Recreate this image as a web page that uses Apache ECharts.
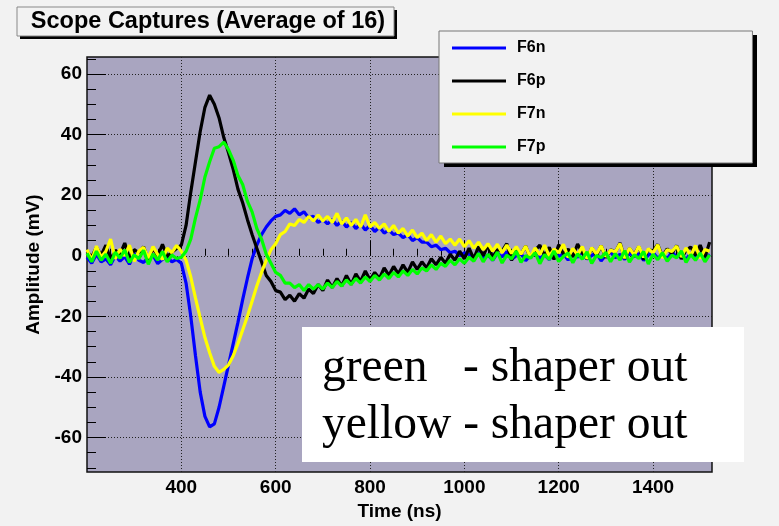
<!DOCTYPE html>
<html>
<head>
<meta charset="utf-8">
<title>Scope Captures</title>
<script src="https://cdn.jsdelivr.net/npm/echarts@6.0.0/dist/echarts.min.js"></script>
<style>
    html, body { margin: 0; padding: 0; background: #f2f2f2; }
    #main { width: 779px; height: 526px; }
</style>
</head>
<body>
<div id="main"></div>
<script>
/* 采样时间 (ns) */
const times = [200, 210, 220, 230, 240, 250, 260, 270, 280, 290, 300, 310, 320, 330, 340, 350, 360, 370, 380, 390,
    400, 410, 420, 430, 440, 450, 460, 470, 480, 490, 500, 510, 520, 530, 540, 550, 560, 570, 580, 590,
    600, 610, 620, 630, 640, 650, 660, 670, 680, 690, 700, 710, 720, 730, 740, 750, 760, 770, 780, 790,
    800, 810, 820, 830, 840, 850, 860, 870, 880, 890, 900, 910, 920, 930, 940, 950, 960, 970, 980, 990,
    1000, 1010, 1020, 1030, 1040, 1050, 1060, 1070, 1080, 1090, 1100, 1110, 1120, 1130, 1140, 1150, 1160, 1170, 1180, 1190,
    1200, 1210, 1220, 1230, 1240, 1250, 1260, 1270, 1280, 1290, 1300, 1310, 1320, 1330, 1340, 1350, 1360, 1370, 1380, 1390,
    1400, 1410, 1420, 1430, 1440, 1450, 1460, 1470, 1480, 1490, 1500, 1510, 1520];

/* F6n - blue */
const f6n = [-0.5, -2.5, 0.5, -2, -1, -3, 0, -1.8, -0.3, -2.8, 0.8, -1.5, -2.2, -0.6, 0.2, -2.6, -1.2, -0.4, -2, -1.2,
    -2.5, -9, -20, -33, -45, -53, -56.5, -55.5, -50, -43, -36, -29, -22, -14.5, -7.5, -1, 3.5, 7, 9.5, 11.5,
    13, 13.5, 15, 14, 15.5, 13.5, 14.5, 12.5, 13, 11, 12,
    10.5, 12, 10, 11.5, 9.5, 11, 9, 10.5, 8.5, 10, 8, 9.5, 7.5, 8.5, 7, 7.5, 6, 7, 5, 6, 4.5, 4.5, 3, 3.5, 2, 2.5, 1, 1.5, 0, 1,
    0.5, -1, 1.2, -0.8, 0.3, -1.5, 0.9, -0.4, 1.4, -1.2, 0, 0.7, -1.6, 0.2, 1, -0.9, 0.4, -1.3, 1.1, -0.2,
    0.6, -1.4, 0.8, -0.5, 1.3, -1.1, 0.1, 0.9, -1.7, 0.3, 1.2, -0.6, 0.5, -1.2, 1, -0.3, 0.7, -1.5, 0.2, 1.1,
    -0.8, 0.4, -1, 1.3, -0.4, 0.6, -1.3, 0.9, -0.1, 0.8, -1.1, 0.5];

/* F6p - black */
const f6p = [1.5, -0.5, 2.8, 0.2, 3.5, -1.2, 1.8, 0.5, 4.2, -0.8, 2.0, 1.0, 3.0, -1.5, 2.5, 0.0, 3.8, -0.3, 1.2, 2.4,
    3.5, 10, 21, 31, 41, 49, 53, 50, 45.5, 39, 34, 28.5, 22, 17.5, 12, 7, 2.5, -2, -6.5, -8.5,
    -11.5, -12, -14.5, -13, -15, -12.5, -14, -11, -12.5, -9.5, -11.5,
    -8, -10.5, -7.5, -10, -6.5, -9.5, -6, -8.5, -5, -8, -5.5, -7.5, -4, -6.5, -3.5, -6, -3, -5.5, -2, -4.5, -2, -4, -1, -3, -0.5, -2.5, 0.5, -1.5, 1.5, -1,
    2.5, -1, 3, 0, 3.5, -0.5, 2, 1.5, 4, -1.5, 2.5, 0.5, 3.2, -0.8, 1.8, 3.5, 0, 2.8, -1.2, 3.6,
    0.6, 2.2, -0.4, 3.9, 1, -1, 2.6, 0.2, 3.3, -0.6, 2, 1.2, 4.2, -0.9, 2.4, 0.4, 3, -1.3, 2.1, 1.6,
    3.7, -0.2, 2.3, 0.8, 3.4, -1.1, 1.9, 2.9, 0.1, 3.5, -0.5, 4.5];

/* F7n - yellow */
const f7n = [2, -1.5, 3.2, -0.5, 1.5, 5.5, -1, 2.2, 0, 3.5, -1.8, 1.6, 2.8, -0.8, 3, 0.4, -1.2, 2.5, 1, 3.4,
    1.5, -1.5, -7, -14, -20.5, -27, -32, -36.5, -38.5, -37.5, -36, -33, -29, -24.5, -20, -15, -10, -5.5, -1.5, 2,
    4, 7, 8, 10.5, 10, 12, 11, 13, 11.5, 13.5, 11.5,
    13, 11, 14, 10.5, 12.5, 10, 12, 9.5, 13.5, 9.5, 11, 9, 10.5, 8, 10, 7.5, 9, 6.5, 8.5, 6, 7.5, 5, 7, 4.5, 6.5, 4, 5.5, 3.5, 5.5, 3,
    5, 2.5, 4.5, 2, 4, 1.5, 3.8, 1, 3.5, 0.8, 3, 0.5, 3.2, -0.5, 2.6, 0.4, 3.5, -0.2, 2.2, 1,
    3.8, -0.6, 2.4, 0.3, 3, -1, 2.7, 0.6, 3.3, -0.3, 1.9, 1.2, 4, -0.8, 2.5, 0.2, 3.1, -0.5, 2.3, 0.9,
    3.6, -0.7, 2, 1.4, 3.2, -0.4, 2.6, 0, 3.4, -0.9, 2.1, 1.5];

/* F7p - green */
const f7p = [0.8, -2, 1.5, -1.5, 0.5, -2.5, 1.2, -0.8, 2, -2.2, 0.3, -1, 1.8, -2.8, 0.6, -1.4, 1.4, -2, 0.2, -0.9,
    -0.5, 1.5, 5.5, 12.5, 18.5, 26, 31, 35.5, 36, 37.5, 35, 31.5, 26.5, 23.5, 18, 14.5, 9, 5.5, 0.5, -2.5,
    -5.5, -6.5, -9, -9, -10.5, -9.5, -11.5, -9.5, -11, -9.5, -11,
    -9, -10.5, -8.5, -10, -8, -9.5, -7.5, -9, -7, -8.5, -6.5, -8, -6, -7.5, -5.5, -7, -5, -6.5, -4.5, -6, -4, -5, -3, -4.5, -2.5, -3.5, -1.5, -3, -1, -2.5,
    -0.5, -1.8, 0.8, -2, 0.5, -1.5, 1.2, -2.4, 0.2, -1, 1.5, -2.2, 0, -0.8, 1, -2.6, 0.4, -1.2, 1.6, -1.9,
    -0.2, 0.9, -2.3, 0.6, -1.1, 1.3, -2.5, 0.1, -0.6, 1.1, -2, 0.7, -1.4, 1.7, -2.1, 0.3, -0.9, 1.4, -2.7, 0.5,
    -1.3, 1, -1.8, 0.2, -0.7, 1.6, -2.2, 0.4, -1.5, 0.9, -2, 0.3];

/* 坐标轴刻度 */
const xMajorTicks = [400, 600, 800, 1000, 1200, 1400];
const xMinorTicks = [250, 300, 350, 450, 500, 550, 650, 700, 750, 850, 900, 950, 1050, 1100, 1150, 1250, 1300, 1350, 1450, 1500];
const yMajorTicks = [-60, -40, -20, 0, 20, 40, 60];
const yMinorTicks = [-70, -65, -55, -50, -45, -35, -30, -25, -15, -10, -5, 5, 10, 15, 25, 30, 35, 45, 50, 55, 65];

const seriesNames = ['F6n', 'F6p', 'F7n', 'F7p'];
const seriesColors = ['#0000ff', '#000000', '#ffff00', '#00ff00'];
const seriesValues = [f6n, f6p, f7n, f7p];

const fontSans = '"Liberation Sans", Arial, sans-serif';
const fontSerif = '"Liberation Serif", "Times New Roman", serif';

let chart = echarts.init(document.getElementById('main'));

let xMin = 200, xMax = 1525, yMin = -71.4, yMax = 65.6;

let option = {
    backgroundColor: '#f2f2f2',
    animation: false,
    grid: {
        left: 87,
        top: 57,
        width: 625,
        height: 421,
        show: true,
        backgroundColor: '#a9a5c0',
        borderColor: '#111',
        borderWidth: 1.5
    },
    legend: {
        orient: 'vertical',
        left: 439,
        top: 31,
        z: 20,
        padding: [9, 207, 8, 13],
        itemGap: 17,
        itemWidth: 54,
        itemHeight: 3,
        icon: 'rect',
        backgroundColor: '#f2f2f2',
        borderColor: '#777',
        borderWidth: 1,
        borderRadius: 0,
        textStyle: {
            fontFamily: fontSans,
            fontWeight: 'bold',
            fontSize: 16,
            lineHeight: 16,
            color: '#000',
            padding: [0, 0, 0, 6]
        },
        data: seriesNames
    },
    xAxis: [{
        type: 'value',
        min: xMin,
        max: xMax,
        position: 'bottom',
        name: 'Time (ns)',
        nameLocation: 'middle',
        nameGap: 25,
        nameTextStyle: {fontFamily: fontSans, fontWeight: 'bold', fontSize: 19, color: '#000'},
        axisLine: {show: false},
        axisTick: {show: true, inside: true, length: 15, customValues: xMajorTicks, lineStyle: {color: '#000', width: 1}},
        axisLabel: {
            customValues: xMajorTicks, margin: 6,
            formatter: v => String(v),
            fontFamily: fontSans, fontWeight: 'bold', fontSize: 19, color: '#000'
        },
        splitLine: {show: true, lineStyle: {color: '#222', width: 1, type: [1, 2]}}
    }, {
        type: 'value',
        min: xMin,
        max: xMax,
        position: 'bottom',
        axisLine: {show: false},
        axisTick: {show: true, inside: true, length: 7, customValues: xMinorTicks, lineStyle: {color: '#000', width: 1}},
        axisLabel: {show: false},
        splitLine: {show: false}
    }],
    yAxis: [{
        type: 'value',
        min: yMin,
        max: yMax,
        position: 'left',
        name: 'Amplitude (mV)',
        nameLocation: 'middle',
        nameGap: 42,
        nameTextStyle: {fontFamily: fontSans, fontWeight: 'bold', fontSize: 19, color: '#000'},
        axisLine: {show: false},
        axisTick: {show: true, inside: true, length: 19, customValues: yMajorTicks, lineStyle: {color: '#000', width: 1}},
        axisLabel: {customValues: yMajorTicks, margin: 5, fontFamily: fontSans, fontWeight: 'bold', fontSize: 19, color: '#000'},
        splitLine: {show: true, lineStyle: {color: '#222', width: 1, type: [1, 2]}}
    }, {
        type: 'value',
        min: yMin,
        max: yMax,
        position: 'left',
        axisLine: {show: false},
        axisTick: {show: true, inside: true, length: 9, customValues: yMinorTicks, lineStyle: {color: '#000', width: 1}},
        axisLabel: {show: false},
        splitLine: {show: false}
    }],
    series: seriesNames.map((name, k) => ({
        name: name,
        type: 'line',
        xAxisIndex: 0,
        yAxisIndex: 0,
        showSymbol: false,
        color: seriesColors[k],
        lineStyle: {width: 3.2, color: seriesColors[k]},
        data: times.map((t, i) => [t, seriesValues[k][i]])
    })),
    graphic: [
        // 标题框
        {type: 'rect', z: 19, shape: {x: 20, y: 10, width: 377, height: 29}, style: {fill: '#000'}},
        {type: 'rect', z: 20, shape: {x: 17, y: 7, width: 377, height: 29}, style: {fill: '#f2f2f2', stroke: '#888', lineWidth: 1}},
        {type: 'text', z: 21, x: 208, y: 22, style: {
            text: 'Scope Captures (Average of 16)', align: 'center', verticalAlign: 'middle',
            font: 'bold 23.5px ' + fontSans, fill: '#000'}},
        // 图例阴影
        {type: 'rect', z: 19, shape: {x: 444, y: 35, width: 313, height: 132}, style: {fill: '#000'}},
        // 说明文字
        {type: 'rect', z: 20, shape: {x: 302, y: 327, width: 442, height: 135}, style: {fill: '#fff'}},
        {type: 'text', z: 21, x: 322, y: 369, style: {
            text: 'green   - shaper out', align: 'left', verticalAlign: 'middle',
            font: '47.5px ' + fontSerif, fill: '#000'}},
        {type: 'text', z: 21, x: 322, y: 426, style: {
            text: 'yellow - shaper out', align: 'left', verticalAlign: 'middle',
            font: '47.5px ' + fontSerif, fill: '#000'}}
    ]
};

chart.setOption(option);

window.onresize = function () {
    chart.resize();
}
</script>
</body>
</html>
